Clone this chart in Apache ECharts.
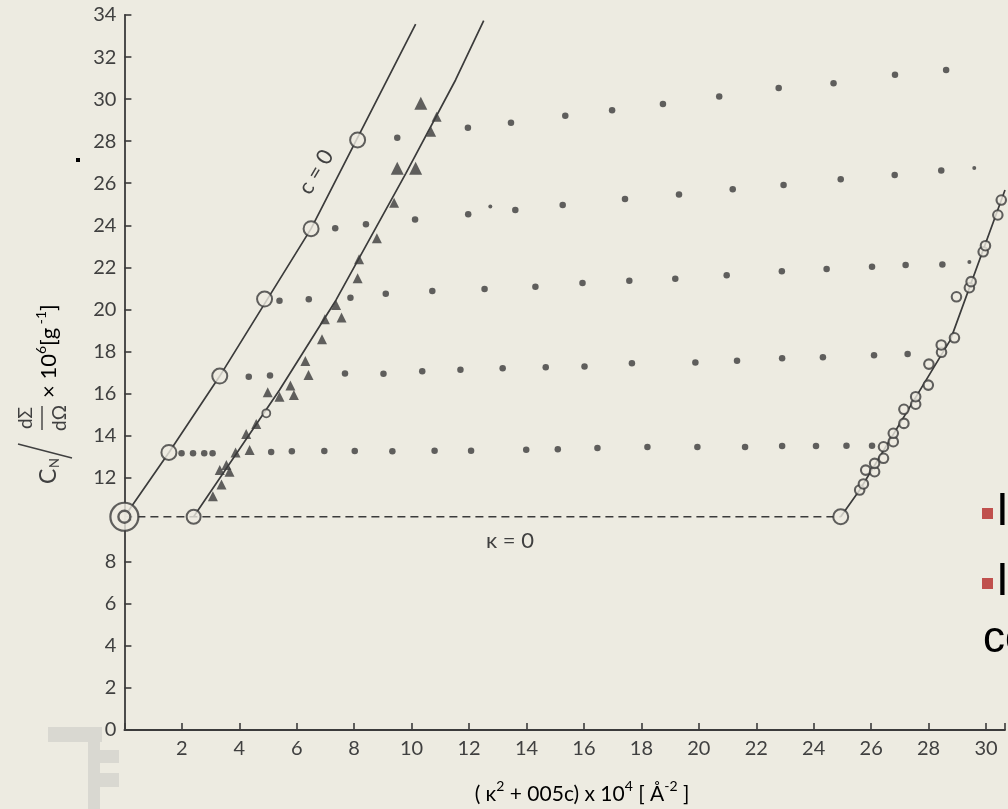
<!DOCTYPE html>
<html><head><meta charset="utf-8">
<script src="https://cdn.jsdelivr.net/npm/echarts@6/dist/echarts.min.js"></script>
<style>html,body{margin:0;padding:0;background:#EDEBE1;}#c{width:1008px;height:809px;}</style>
</head><body><div id="c"></div>
<script>
// ---- data ----
const cZeroLine = [[0,10.14],[1.55,13.2],[3.32,16.83],[6.5,23.84],[10.14,33.57]];
const cZeroCircles = [[1.55,13.2],[3.32,16.83],[4.88,20.49],[6.50,23.84],[8.12,28.06]];
const originPoint = [[0,10.14]];
const lowLine = [[2.41,10.14],[5.40,16.17],[7.37,20.45],[9.80,26.47],[11.53,30.91],[12.51,33.73]];
const lowStart = [[2.41,10.14]];
const lowSmallCircle = [[4.94,15.06]];
const triangles = [[10.87,29.16],[10.68,28.45],[9.39,25.07],[8.79,23.38],[8.17,22.38],[8.12,21.48],
  [7.37,20.21],[7.56,19.62],[6.98,19.53],[6.88,18.58],[6.30,17.55],[6.41,16.88],[5.78,16.38],
  [5.90,15.93],[5.40,15.85],[4.99,16.06],[4.59,14.55],[4.24,14.08],[4.36,13.31],[3.87,13.19],
  [3.55,12.60],[3.32,12.36],[3.66,12.28],[3.38,11.67],[3.08,11.11]];
const trianglesLarge = [[10.14,26.71],[9.50,26.71],[10.32,29.80]];
const kappaZeroLine = [[0,10.14],[24.94,10.14]];
const rightLine = [[24.94,10.14],[25.60,11.41],[28.76,18.55],[30.66,25.68]];
const rightStart = [[24.94,10.14]];
const rightCircles = [[25.60,11.41],[25.73,11.70],[25.81,12.36],[26.12,12.28],[26.12,12.68],[26.43,12.92],
  [26.43,13.47],[26.77,13.71],[26.77,14.11],[27.14,14.58],[27.14,15.25],[27.55,15.49],[27.55,15.85],
  [27.99,16.40],[28.01,17.40],[28.45,17.96],[28.44,18.31],[28.90,18.65],[28.97,20.60],[29.42,21.03],
  [29.48,21.32],[29.90,22.74],[29.98,23.03],[30.41,24.49],[30.53,25.20]];
const row1 = [[1.99,13.16],[2.39,13.16],[2.78,13.16],[3.07,13.16],[5.11,13.22],[5.83,13.25],[6.96,13.27],
  [8.02,13.27],[9.33,13.25],[10.80,13.28],[12.07,13.28],[13.99,13.33],[15.09,13.35],[16.47,13.41],
  [18.21,13.46],[19.95,13.46],[21.61,13.46],[22.90,13.50],[24.08,13.50],[25.14,13.52],[26.03,13.52]];
const row2 = [[4.33,16.80],[5.07,16.86],[7.68,16.95],[9.02,16.94],[10.37,17.06],[11.70,17.13],[13.17,17.20],
  [14.67,17.25],[16.02,17.28],[17.67,17.44],[19.88,17.48],[21.33,17.56],[22.90,17.68],[24.32,17.72],
  [26.10,17.82],[27.27,17.88]];
const row3 = [[5.40,20.41],[6.42,20.48],[7.87,20.56],[9.10,20.74],[10.72,20.87],[12.54,20.97],[14.31,21.08],
  [15.95,21.26],[17.58,21.36],[19.18,21.46],[20.97,21.62],[22.89,21.81],[24.45,21.92],[26.03,22.03],
  [27.20,22.11],[28.48,22.13]];
const row4 = [[7.34,23.86],[8.41,24.05],[10.12,24.27],[11.97,24.52],[13.61,24.73],[15.26,24.96],[17.43,25.25],
  [19.31,25.47],[21.18,25.71],[22.95,25.92],[24.94,26.19],[26.82,26.39],[28.44,26.60]];
const row5 = [[9.50,28.16],[11.96,28.64],[13.46,28.88],[15.35,29.21],[16.98,29.47],[18.75,29.77],[20.71,30.13],
  [22.78,30.53],[24.69,30.75],[26.83,31.16],[28.61,31.38]];
const smallDots = [[29.42,22.25],[12.74,24.89],[29.59,26.72]];
const xTickLabels = [2,4,6,8,10,12,14,16,18,20,22,24,26,28,30];
const yTickLabels = [0,2,4,6,8,12,14,16,18,20,22,24,26,28,30,32,34];

// ---- styles ----
const INK = '#3b3b3b';
const BG = '#EDEBE1';
const LBL = '#404040';
const FONT = 'Lato, "DejaVu Sans", sans-serif';

const chart = echarts.init(document.getElementById('c'), null, {renderer:'canvas'});

function lineS(data, extra) {
  return Object.assign({type:'line', data, symbol:'none', showSymbol:false, clip:false, silent:true,
    lineStyle:{color:INK, width:1.7}, z:2}, extra||{});
}
function ptS(data, symbol, size, open, bw, z) {
  return {type:'scatter', data, symbol, symbolSize:size, clip:false, silent:true, z:z||3,
    itemStyle: open ? {color:BG, borderColor:INK, borderWidth:bw||1.8} : {color:INK}};
}

const option = {
  animation:false,
  backgroundColor: BG,
  grid:{left:124.4, right:0, top:15, bottom:79, containLabel:false},
  xAxis:{type:'value', min:0, max:30.66, interval:2,
    axisLine:{lineStyle:{color:INK, width:1.8}},
    axisTick:{inside:true, length:7, lineStyle:{color:INK, width:1.6}},
    axisLabel:{margin:9, color:LBL, fontSize:20, fontFamily:FONT,
      formatter:v => xTickLabels.indexOf(v) >= 0 ? String(v) : ''},
    splitLine:{show:false}},
  yAxis:{type:'value', min:0, max:34, interval:2,
    axisLine:{lineStyle:{color:INK, width:1.8}},
    axisTick:{inside:true, length:7, lineStyle:{color:INK, width:1.6}},
    axisLabel:{margin:8, color:LBL, fontSize:20, fontFamily:FONT,
      formatter:v => yTickLabels.indexOf(v) >= 0 ? String(v) : ''},
    splitLine:{show:false}},
  series:[
    lineS(cZeroLine),
    lineS(lowLine),
    lineS(rightLine),
    lineS(kappaZeroLine, {lineStyle:{color:INK, width:1.6, type:[8,5]}}),
    ptS([].concat(row1,row2,row3,row4,row5), 'circle', 6.5, false),
    ptS(smallDots, 'circle', 4, false),
    ptS(triangles, 'triangle', 10, false),
    ptS(trianglesLarge, 'triangle', 13, false),
    ptS(cZeroCircles, 'circle', 15, true, 2),
    ptS(originPoint, 'circle', 28, true, 2.2, 4),
    ptS(originPoint, 'circle', 12, true, 2.4, 5),
    ptS(lowStart, 'circle', 14, true, 2),
    ptS(lowSmallCircle, 'circle', 8, true, 1.8),
    ptS(rightStart, 'circle', 15, true, 2),
    ptS(rightCircles, 'circle', 9.5, true, 2.1)
  ],
  graphic:[
    // faint logo at bottom left
    {type:'rect', shape:{x:48,y:727,width:54,height:15}, style:{fill:'#D9D8D1'}, z:-1, silent:true},
    {type:'rect', shape:{x:88,y:727,width:12,height:82}, style:{fill:'#D9D8D1'}, z:-1, silent:true},
    {type:'rect', shape:{x:100,y:750,width:19,height:13}, style:{fill:'#D9D8D1'}, z:-1, silent:true},
    {type:'rect', shape:{x:100,y:773,width:19,height:14}, style:{fill:'#D9D8D1'}, z:-1, silent:true},
    // slide fragments
    {type:'rect', shape:{x:76,y:158,width:4,height:4}, style:{fill:'#000'}, silent:true},
    {type:'rect', shape:{x:982,y:508,width:11,height:11}, style:{fill:'#C0504D'}, silent:true},
    {type:'rect', shape:{x:982,y:578,width:11,height:11}, style:{fill:'#C0504D'}, silent:true},
    {type:'text', x:996, y:512, style:{text:'I', fill:'#000', font:'46px "Liberation Sans", Arial, sans-serif', align:'left', verticalAlign:'middle'}, silent:true},
    {type:'text', x:996, y:582, style:{text:'I', fill:'#000', font:'46px "Liberation Sans", Arial, sans-serif', align:'left', verticalAlign:'middle'}, silent:true},
    {type:'text', x:983, y:640, style:{text:'co', fill:'#000', font:'44px "Liberation Sans", Arial, sans-serif', align:'left', verticalAlign:'middle'}, silent:true},
    // in-plot labels
    {type:'text', x:316, y:172, rotation:1.033, style:{text:'c = 0', fill:LBL, font:'22px '+FONT, align:'center', verticalAlign:'middle'}, silent:true},
    {type:'text', x:510, y:541, style:{text:'κ = 0', fill:LBL, font:'22px '+FONT, align:'center', verticalAlign:'middle'}, silent:true},
    // x axis title
    {type:'text', x:582, y:792, silent:true, style:{
      text:'{m|( κ}{s|2}{m| + 005c) x 10}{s|4}{m| [ Å}{s|-2}{m| ]}',
      align:'center', verticalAlign:'middle',
      rich:{m:{fontSize:21, fontFamily:FONT, color:LBL, lineHeight:26, verticalAlign:'bottom'},
            s:{fontSize:14, fontFamily:FONT, color:LBL, lineHeight:26, verticalAlign:'top'}}}},
    // y axis title (rotated group)
    {type:'group', x:45, y:386, rotation:Math.PI/2, silent:true, children:[
      {type:'text', x:-98, y:4, style:{text:'C', fill:LBL, font:'23px '+FONT, align:'left', verticalAlign:'middle'}},
      {type:'text', x:-82, y:10, style:{text:'N', fill:LBL, font:'13px '+FONT, align:'left', verticalAlign:'middle'}},
      {type:'line', shape:{x1:-72,y1:27,x2:-58,y2:-27}, style:{stroke:LBL, lineWidth:1.4}},
      {type:'text', x:-32, y:-19, style:{text:'dΣ', fill:LBL, font:'19px '+FONT, align:'center', verticalAlign:'middle'}},
      {type:'line', shape:{x1:-44,y1:-3,x2:-20,y2:-3}, style:{stroke:LBL, lineWidth:1.4}},
      {type:'text', x:-32, y:15, style:{text:'dΩ', fill:LBL, font:'19px '+FONT, align:'center', verticalAlign:'middle'}},
      {type:'text', x:-12, y:2, style:{
        text:'{m|× 10}{s|6}{m|[g}{s| -1}{m|]}', align:'left', verticalAlign:'middle',
        rich:{m:{fontSize:22, fontFamily:FONT, color:LBL, lineHeight:26, verticalAlign:'bottom'},
              s:{fontSize:14, fontFamily:FONT, color:LBL, lineHeight:26, verticalAlign:'top'}}}}
    ]}
  ]
};
chart.setOption(option);
</script>
</body></html>
